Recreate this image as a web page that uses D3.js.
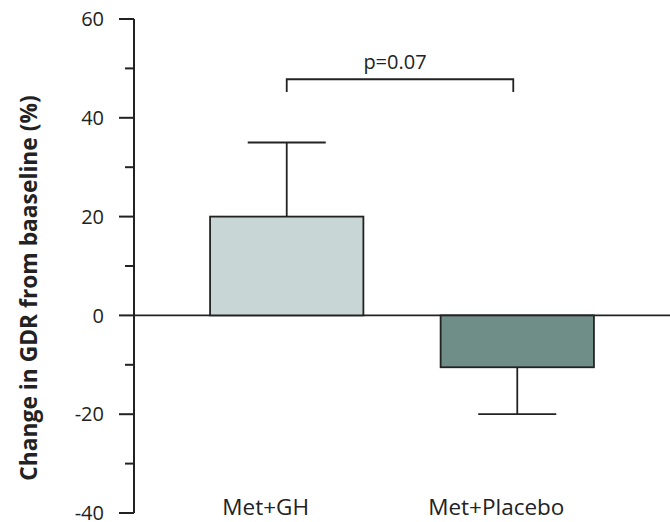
<!DOCTYPE html>
<html>
<head>
<meta charset="utf-8">
<script src="https://cdn.jsdelivr.net/npm/d3@7"></script>
<style>
  body { margin: 0; background: #fff; }
  svg { display: block; font-family: "Open Sans", sans-serif; }
</style>
</head>
<body>
<div id="chart"></div>
<script>
var groups = ["Met+GH", "Met+Placebo"];
var means = [20, -10.5];
var errors = [15, 9.5];
var fills = ["#c9d6d6", "#6f8e88"];
var yTicks = [60, 40, 20, 0, -20, -40];
var yMinor = [50, 30, 10, -10, -30];
var pText = "p=0.07";
var bracketY = [47.8, 45.2];

var width = 670, height = 522;
var svg = d3.select("#chart").append("svg")
  .attr("width", width)
  .attr("height", height);

var axisX = 134;
var y = d3.scaleLinear().domain([-40, 60]).range([513, 19]);
var x = d3.scaleBand().domain(groups).range([134, 670])
  .paddingInner(0.335).paddingOuter(0.33);

// zero line
svg.append("line")
  .attr("x1", axisX).attr("x2", width)
  .attr("y1", y(0)).attr("y2", y(0))
  .attr("stroke", "#222").attr("stroke-width", 1.8);

// bars
svg.selectAll("rect.bar").data(groups).enter().append("rect")
  .attr("class", "bar")
  .attr("x", d => x(d))
  .attr("width", x.bandwidth())
  .attr("y", (d, i) => y(Math.max(0, means[i])))
  .attr("height", (d, i) => Math.abs(y(means[i]) - y(0)))
  .attr("fill", (d, i) => fills[i])
  .attr("stroke", "#222").attr("stroke-width", 1.8);

// error bars
var capW = 78;
groups.forEach(function (g, i) {
  var cx = x(g) + x.bandwidth() / 2;
  var end = means[i] >= 0 ? means[i] + errors[i] : means[i] - errors[i];
  svg.append("line")
    .attr("x1", cx).attr("x2", cx)
    .attr("y1", y(means[i])).attr("y2", y(end))
    .attr("stroke", "#222").attr("stroke-width", 1.8);
  svg.append("line")
    .attr("x1", cx - capW / 2).attr("x2", cx + capW / 2)
    .attr("y1", y(end)).attr("y2", y(end))
    .attr("stroke", "#222").attr("stroke-width", 1.8);
});

// y axis
var axis = svg.append("g").attr("transform", "translate(" + axisX + ",0)");
axis.append("line")
  .attr("x1", 0).attr("x2", 0)
  .attr("y1", y(60)).attr("y2", y(-40))
  .attr("stroke", "#222").attr("stroke-width", 2);
axis.selectAll("line.major").data(yTicks).enter().append("line")
  .attr("class", "major")
  .attr("x1", -15).attr("x2", 0)
  .attr("y1", d => y(d)).attr("y2", d => y(d))
  .attr("stroke", "#222").attr("stroke-width", 2);
axis.selectAll("line.minor").data(yMinor).enter().append("line")
  .attr("class", "minor")
  .attr("x1", -9).attr("x2", 0)
  .attr("y1", d => y(d)).attr("y2", d => y(d))
  .attr("stroke", "#222").attr("stroke-width", 2);
axis.selectAll("text").data(yTicks).enter().append("text")
  .attr("x", -30)
  .attr("y", d => y(d))
  .attr("dy", "0.36em")
  .attr("text-anchor", "end")
  .attr("font-size", 20)
  .attr("fill", "#222")
  .text(d => d);

// y title
svg.append("text")
  .attr("transform", "translate(37," + 288 + ") rotate(-90)")
  .attr("text-anchor", "middle")
  .attr("font-size", 22.8)
  .attr("font-weight", "bold")
  .attr("fill", "#222")
  .text("Change in GDR from baaseline (%)");

// category labels
svg.selectAll("text.cat").data(groups).enter().append("text")
  .attr("class", "cat")
  .attr("x", d => x(d) + x.bandwidth() / 2 - 21)
  .attr("y", 515)
  .attr("text-anchor", "middle")
  .attr("font-size", 22.5)
  .attr("fill", "#222")
  .text(d => d);

// significance bracket
var bx1 = x(groups[0]) + x.bandwidth() / 2;
var bx2 = x(groups[1]) + x.bandwidth() / 2 - 4;
svg.append("path")
  .attr("d", "M" + bx1 + "," + y(bracketY[1]) + "V" + y(bracketY[0]) +
    "H" + bx2 + "V" + y(bracketY[1]))
  .attr("fill", "none")
  .attr("stroke", "#222").attr("stroke-width", 1.8);
svg.append("text")
  .attr("x", (bx1 + bx2) / 2 - 5)
  .attr("y", 69)
  .attr("text-anchor", "middle")
  .attr("font-size", 20)
  .attr("fill", "#222")
  .text(pText);
</script>
</body>
</html>
